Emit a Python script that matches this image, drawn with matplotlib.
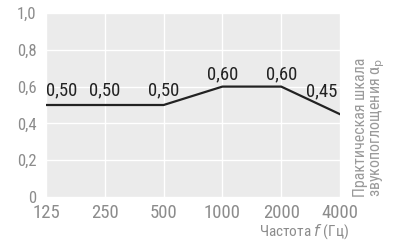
import matplotlib
matplotlib.use("Agg")
import matplotlib.pyplot as plt
from matplotlib import font_manager

freqs = ["125", "250", "500", "1000", "2000", "4000"]
alpha = [0.50, 0.50, 0.50, 0.60, 0.60, 0.45]
value_labels = ["0,50", "0,50", "0,50", "0,60", "0,60", "0,45"]
yticks = [0, 0.2, 0.4, 0.6, 0.8, 1.0]
ytick_labels = ["0", "0,2", "0,4", "0,6", "0,8", "1,0"]

names = {f.name for f in font_manager.fontManager.ttflist}
fam = "Roboto"
for cand in ["Roboto Condensed", "Liberation Sans Narrow", "Open Sans Condensed", "Roboto"]:
    if cand in names:
        fam = cand
        break
plt.rcParams["font.family"] = [fam, "DejaVu Sans"]

fig = plt.figure(figsize=(4.01, 2.44), dpi=100)
ax = fig.add_axes([46/401, 1 - 197/244, 294/401, 184/244])
ax.set_facecolor("#ebebeb")
x = list(range(len(freqs)))
ax.plot(x, alpha, color="#222222", lw=1.6, solid_joinstyle="miter", zorder=3)
ax.set_xlim(0, len(freqs) - 1)
ax.set_ylim(0, 1)
ax.set_xticks(x)
ax.set_xticklabels(freqs)
ax.set_yticks(yticks)
ax.set_yticklabels(ytick_labels)
ax.grid(True, color="white", lw=1.0)
ax.set_axisbelow(True)
for s in ax.spines.values():
    s.set_visible(False)
ax.tick_params(length=0, colors="#8c8c8c")
ax.tick_params(axis="y", pad=7, labelsize=12)
ax.tick_params(axis="x", pad=5, labelsize=13.5)

offsets = [(11, 4), (0, 4), (0, 4), (0, 2), (0, 2), (-13, 10)]
for xi, yi, lab, off in zip(x, alpha, value_labels, offsets):
    ax.annotate(lab, (xi, yi), xytext=off, textcoords="offset points",
                ha="center", va="bottom", fontsize=13.5, color="#222222")

fig.text(349/401, 1 - 232/244, "Частота $\\mathit{f}$ (Гц)", ha="right", va="center",
         fontsize=11, color="#8c8c8c")
fig.text(370/401, 1 - 127/244, "Практическая шкала\nзвукопоглощения α$_\\mathrm{p}$",
         rotation=90, ha="center", va="center", fontsize=11.5, color="#9a9a9a",
         linespacing=1.0)
fig.savefig("out.png", dpi=100)
